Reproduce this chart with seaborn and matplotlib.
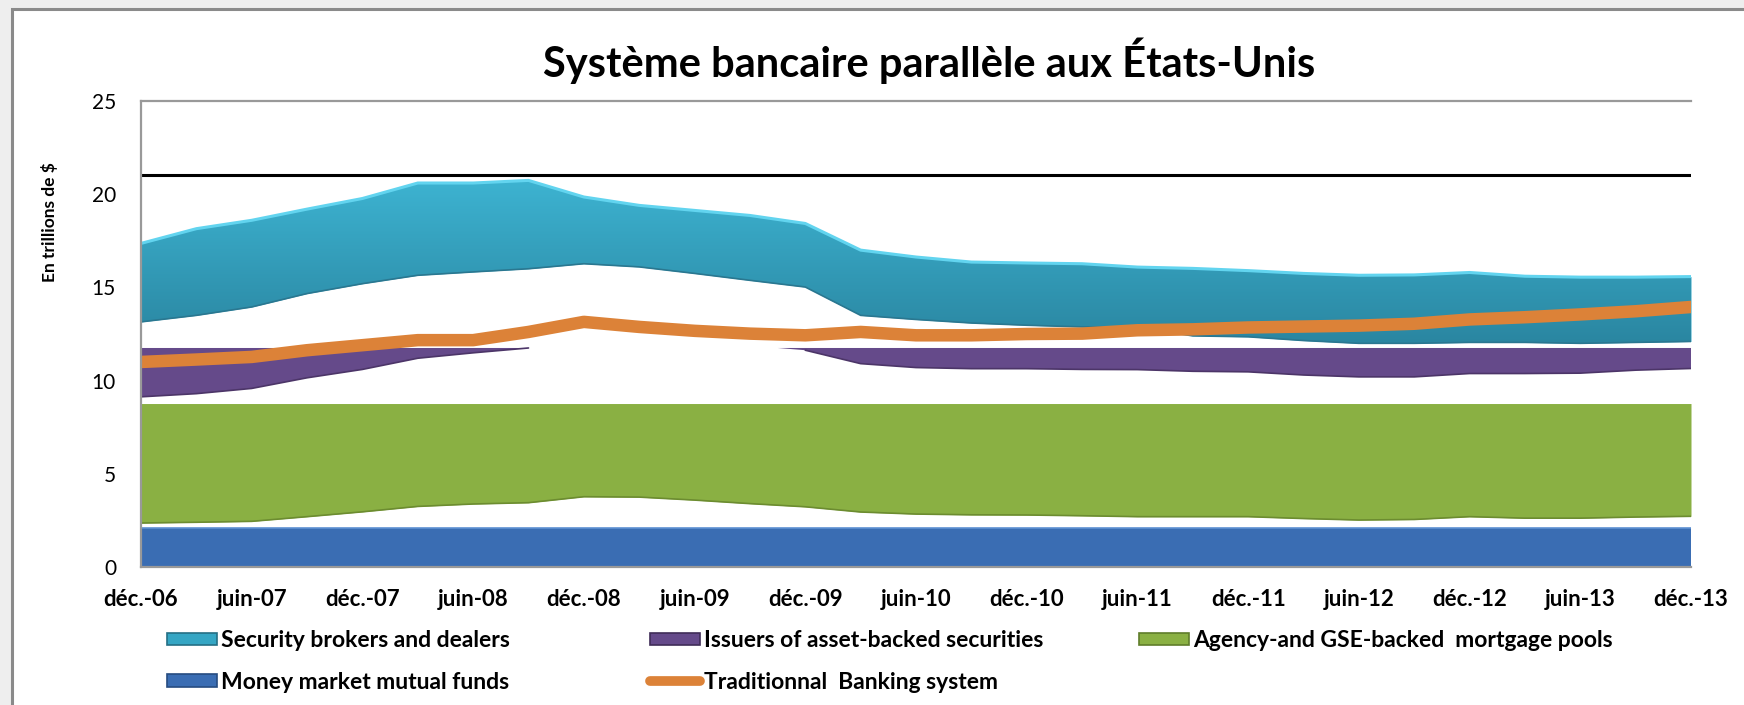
import numpy as np
import pandas as pd
import matplotlib
matplotlib.use("Agg")
import matplotlib.pyplot as plt
import seaborn as sns
from matplotlib.patches import Patch, Rectangle
from matplotlib.lines import Line2D
from matplotlib.colors import LinearSegmentedColormap

# ---------------- data (trillions of $) ----------------
quarters = ["déc.-06", "mars-07", "juin-07", "sept.-07", "déc.-07", "mars-08", "juin-08", "sept.-08",
            "déc.-08", "mars-09", "juin-09", "sept.-09", "déc.-09", "mars-10", "juin-10", "sept.-10",
            "déc.-10", "mars-11", "juin-11", "sept.-11", "déc.-11", "mars-12", "juin-12", "sept.-12",
            "déc.-12", "mars-13", "juin-13", "sept.-13", "déc.-13"]
tick_labels = quarters[::2]

broker_top = [17.36, 18.15, 18.6, 19.2, 19.77, 20.6, 20.6, 20.74, 19.85, 19.4, 19.13, 18.86, 18.43, 17.0,
              16.63, 16.36, 16.31, 16.27, 16.09, 16.02, 15.9, 15.75, 15.65, 15.67, 15.8, 15.6, 15.55, 15.55, 15.58]
broker_bottom = [13.15, 13.5, 13.95, 14.67, 15.2, 15.65, 15.83, 16.0, 16.27, 16.1, 15.75, 15.38, 15.02, 13.5,
                 13.28, 13.09, 12.97, 12.88, 12.85, 12.4, 12.35, 12.15, 12.0, 12.0, 12.05, 12.05, 12.0, 12.05, 12.1]
abs_top = 11.75
abs_bottom = [9.13, 9.3, 9.58, 10.15, 10.6, 11.2, 11.49, 11.75, 12.0, 12.1, 12.0, 11.87, 11.63, 10.91,
              10.7, 10.64, 10.64, 10.6, 10.59, 10.5, 10.47, 10.3, 10.2, 10.2, 10.38, 10.38, 10.4, 10.56, 10.65]
agency_top = 8.77
agency_bottom = [2.36, 2.4, 2.45, 2.7, 2.96, 3.25, 3.38, 3.45, 3.77, 3.75, 3.59, 3.4, 3.23, 2.95,
                 2.84, 2.8, 2.79, 2.75, 2.7, 2.7, 2.7, 2.6, 2.52, 2.55, 2.7, 2.62, 2.62, 2.68, 2.72]
mmf_top = 2.1
mmf_bottom = 0.0
traditional = [11.0, 11.13, 11.27, 11.63, 11.9, 12.17, 12.17, 12.61, 13.15, 12.88, 12.67, 12.52, 12.43, 12.61,
               12.43, 12.43, 12.5, 12.52, 12.7, 12.75, 12.85, 12.9, 12.95, 13.05, 13.28, 13.4, 13.55, 13.72, 13.95]
reference_level = 21.05

series_names = ["Security brokers and dealers", "Issuers of asset-backed securities",
                "Agency-and GSE-backed  mortgage pools", "Money market mutual funds",
                "Traditionnal  Banking system"]

# ---------------- style ----------------
sns.set_style("white")
plt.rcParams["font.family"] = ["Lato", "DejaVu Sans"]
plt.rcParams["text.color"] = "black"
plt.rcParams["xtick.color"] = "black"
plt.rcParams["ytick.color"] = "black"

W, H = 1744, 705
fig = plt.figure(figsize=(W / 100, H / 100), dpi=100)
fig.patch.set_facecolor("#eeeeee")
frame = Rectangle((12 / W, -0.05), 1.1, 1 - 9 / H + 0.05, transform=fig.transFigure,
                  facecolor="white", edgecolor="#8a8a8a", linewidth=2.2, zorder=-5)
fig.patches.append(frame)

ax = fig.add_axes([141 / W, 1 - 567 / H, (1691 - 141) / W, (567 - 101) / H])
ax.set_zorder(2)
ax.set_facecolor("none")

x = np.arange(len(quarters))
df = pd.DataFrame({"q": x, "traditional": traditional})

c_cyan, c_purple, c_green, c_blue, c_orange = "#35A6C4", "#654A8A", "#8AB043", "#3A6DB3", "#DC8238"

# money market mutual funds
ax.fill_between(x, mmf_bottom, mmf_top, color=c_blue, lw=0, zorder=2)
ax.plot(x, [mmf_top] * len(x), color="#5E90D2", lw=1.2, zorder=2.1)

# agency pools
ax.fill_between(x, agency_bottom, agency_top, color=c_green, lw=0, zorder=2)
ax.plot(x, agency_bottom, color="#6C8C30", lw=1.2, zorder=2.1)

# ABS issuers (visible only below the flat top)
ab = np.array(abs_bottom)
ax.fill_between(x, ab, abs_top, where=ab <= abs_top, interpolate=True, color=c_purple, lw=0, zorder=2)
ax.plot(x, np.where(ab <= abs_top, ab, np.nan), color="#4C3568", lw=1.2, zorder=2.1)

# brokers & dealers with vertical gradient
poly = ax.fill_between(x, broker_bottom, broker_top, color=c_cyan, lw=0, zorder=2)
cmap = LinearSegmentedColormap.from_list("cy", ["#2A86A1", "#3DB3D1"])
grad = np.linspace(0, 1, 256).reshape(-1, 1)
im = ax.imshow(grad, extent=[0, 28, min(broker_bottom), max(broker_top)], origin="lower",
               cmap=cmap, aspect="auto", zorder=2.05, interpolation="bilinear")
im.set_clip_path(poly.get_paths()[0], transform=ax.transData)
ax.plot(x, broker_top, color="#62D4EF", lw=2.2, zorder=2.2)
ax.plot(x, broker_bottom, color="#2A7790", lw=1.2, zorder=2.2)

# reference line
ax.axhline(reference_level, color="black", lw=2.2, zorder=3)

# traditional banking line
sns.lineplot(data=df, x="q", y="traditional", ax=ax, color=c_orange, lw=9, zorder=4, legend=False)

ax.set_xlim(0, len(quarters) - 1)
ax.set_ylim(0, 25)
ax.set_xticks(x[::2])
ax.set_xticklabels(tick_labels, fontsize=16, fontweight="bold", color="black")
ax.set_yticks([0, 5, 10, 15, 20, 25])
ax.set_yticklabels(["0", "5", "10", "15", "20", "25"], fontsize=15, color="black")
ax.tick_params(axis="x", length=0, pad=16)
ax.tick_params(axis="y", length=0, pad=18)
ax.set_xlabel("")
ax.set_ylabel("")
for s in ["left", "top", "bottom"]:
    ax.spines[s].set_color("#999999")
    ax.spines[s].set_linewidth(1.6)
    ax.spines[s].set_zorder(6)
ax.spines["right"].set_visible(False)

fig.text(929 / W, 1 - 61 / H, "Système bancaire parallèle aux États-Unis", ha="center", va="center",
         fontsize=30, fontweight="bold", color="black")
fig.text(50 / W, 1 - 222 / H, "En trillions de $", rotation=90, ha="center", va="center",
         fontsize=12.5, fontweight="bold", color="black")

handles = [Patch(facecolor=c_cyan, edgecolor="#256F85", lw=1.2),
           Patch(facecolor=c_purple, edgecolor="#3F2C58", lw=1.2),
           Patch(facecolor=c_green, edgecolor="#5F7D2A", lw=1.2),
           Patch(facecolor=c_blue, edgecolor="#264C80", lw=1.2),
           Line2D([0], [0], color=c_orange, lw=7, solid_capstyle="round")]

cols = [([handles[0], handles[3]], [series_names[0], series_names[3]], 167),
        ([handles[1], handles[4]], [series_names[1], series_names[4]], 650),
        ([handles[2]], [series_names[2]], 1139)]
for hs, labs, xl in cols:
    leg = fig.legend(hs, labs, loc="upper left", bbox_to_anchor=(xl / W, 1 - 630 / H), ncol=1, frameon=False,
                     borderpad=0, borderaxespad=0, handlelength=2.2, handleheight=0.45, handletextpad=0.15,
                     labelspacing=0.9, prop={"weight": "bold", "size": 16.5})
    for t in leg.get_texts():
        t.set_color("black")

fig.savefig("out.png", dpi=100, facecolor=fig.get_facecolor())
